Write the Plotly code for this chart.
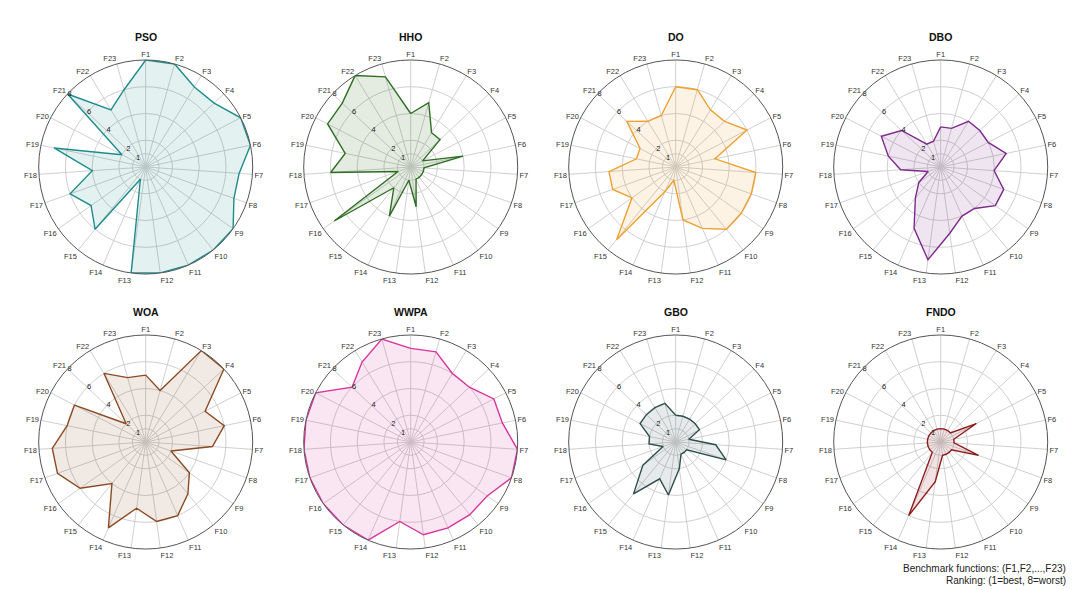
import plotly.graph_objects as go

# benchmark functions and rankings (1=best, 8=worst)
functions = [f"F{i}" for i in range(1, 24)]

pso_rank = [8, 8, 7, 7, 8, 8, 7, 7, 8, 8, 8, 8, 8, 1, 6, 5, 6, 4, 7, 2, 8, 5, 6]
hho_rank = [4, 5, 3, 3, 1, 4, 1, 1, 1, 1, 1, 3, 1, 4, 2, 7, 1, 6, 5, 7, 7, 8, 7]
do_rank = [6, 6, 5, 5, 6, 3, 6, 6, 6, 6, 5, 4, 1, 2, 7, 4, 5, 5, 3, 3, 5, 4, 4]
dbo_rank = [3, 3, 4, 4, 4, 5, 4, 5, 5, 4, 4, 5, 7, 5, 3, 2, 1, 3, 4, 5, 4, 2, 2]
woa_rank = [5, 4, 8, 8, 5, 6, 5, 2, 4, 5, 6, 6, 5, 7, 4, 6, 7, 7, 6, 6, 2, 6, 5]
wwpa_rank = [7, 7, 6, 6, 7, 7, 8, 8, 7, 7, 7, 7, 6, 8, 8, 8, 8, 8, 8, 8, 6, 7, 8]
gbo_rank = [2, 2, 2, 2, 2, 1, 3, 4, 1, 1, 1, 2, 4, 3, 5, 3, 1, 2, 2, 3, 3, 3, 3]
fndo_rank = [1, 1, 1, 1, 3, 1, 1, 3, 1, 1, 1, 1, 3, 6, 1, 1, 1, 1, 1, 1, 1, 1, 1]

rank_ticks = [1, 2, 4, 6, 8]

algorithms = ["PSO", "HHO", "DO", "DBO", "WOA", "WWPA", "GBO", "FNDO"]
rankings = [pso_rank, hho_rank, do_rank, dbo_rank, woa_rank, wwpa_rank, gbo_rank, fndo_rank]
colors = ["#1f8c8c", "#2e6e22", "#f0a030", "#7d2a8c",
          "#8b4a22", "#d8349c", "#2f4f4f", "#8e1c1c"]
fills = ["rgba(31,140,140,0.12)", "rgba(46,110,34,0.13)", "rgba(240,160,48,0.13)",
         "rgba(125,42,140,0.12)", "rgba(139,74,34,0.12)", "rgba(216,52,156,0.12)",
         "rgba(47,79,79,0.12)", "rgba(142,28,28,0.12)"]

W, H = 1080, 590
R = 107
centers_x = [145.7, 410.7, 675.7, 940.7]
centers_y = [167, 442]

FONT = "Liberation Sans, Arial, sans-serif"

fig = go.Figure()
layout = dict(
    width=W, height=H,
    margin=dict(l=0, r=0, t=0, b=0),
    paper_bgcolor="white",
    plot_bgcolor="white",
    showlegend=False,
    font=dict(family=FONT, color="#333333"),
)

annotations = []
for i, (name, rank) in enumerate(zip(algorithms, rankings)):
    row, col = divmod(i, 4)
    cx, cy = centers_x[col], centers_y[row]
    key = "polar" if i == 0 else f"polar{i + 1}"

    fig.add_trace(go.Scatterpolar(
        r=rank + rank[:1],
        theta=functions + functions[:1],
        mode="lines",
        line=dict(color=colors[i], width=1.4),
        fill="toself",
        fillcolor=fills[i],
        subplot=key,
        name=name,
        hoverinfo="r+theta",
    ))

    # ranking labels along the F21 spoke, nudged to the right like the original
    fig.add_trace(go.Scatterpolar(
        r=rank_ticks,
        theta=["F21"] * len(rank_ticks),
        mode="text",
        text=[str(t) for t in rank_ticks],
        textposition="middle right",
        textfont=dict(size=7.5, color="#222222", family=FONT),
        subplot=key,
        hoverinfo="skip",
        cliponaxis=False,
    ))

    layout[key] = dict(
        domain=dict(
            x=[(cx - R) / W, (cx + R) / W],
            y=[(H - cy - R) / H, (H - cy + R) / H],
        ),
        bgcolor="white",
        angularaxis=dict(
            direction="clockwise",
            rotation=90,
            tickfont=dict(size=7.5, color="#333333"),
            showline=True,
            linecolor="#555555",
            linewidth=1,
            gridcolor="#d0d0d0",
            gridwidth=0.8,
            ticks="",
        ),
        radialaxis=dict(
            range=[0, 8],
            tickvals=rank_ticks,
            showticklabels=False,
            showline=False,
            ticks="",
            gridcolor="#cfcfcf",
            gridwidth=0.8,
        ),
    )

    annotations.append(dict(
        x=cx / W, y=(H - cy + R + 23) / H,
        xref="paper", yref="paper",
        text=f"<b>{name}</b>",
        showarrow=False,
        font=dict(size=10.5, color="#111111", family=FONT),
        xanchor="center", yanchor="middle",
    ))

annotations.append(dict(
    x=1068 / W, y=(H - 568) / H, xref="paper", yref="paper",
    text="Benchmark functions: (F1,F2,...,F23)",
    showarrow=False, xanchor="right", yanchor="middle",
    font=dict(size=10, color="#222222", family=FONT),
))
annotations.append(dict(
    x=1068 / W, y=(H - 580) / H, xref="paper", yref="paper",
    text="Ranking: (1=best, 8=worst)",
    showarrow=False, xanchor="right", yanchor="middle",
    font=dict(size=10, color="#222222", family=FONT),
))

layout["annotations"] = annotations
fig.update_layout(**layout)

fig.write_html(
    "out.html",
    config={"displayModeBar": False},
    post_script="document.body.style.margin='0';",
)
